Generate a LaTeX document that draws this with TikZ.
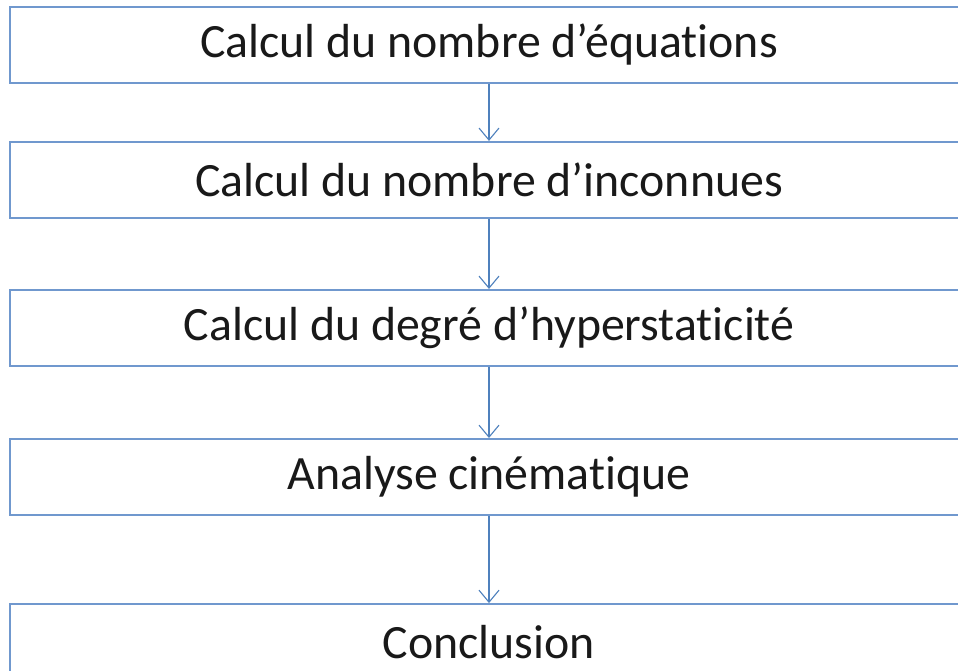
\documentclass[tikz,border=0pt]{standalone}
\usepackage{fontspec}
\setmainfont{Carlito}[Ligatures=NoCommon]
\usepackage{xcolor}
\usepackage{tikz}
\usetikzlibrary{positioning, arrows.meta}
\definecolor{boxline}{RGB}{112,152,206}
\definecolor{arrowline}{RGB}{79,129,189}
\tikzset{
  etape/.style={
    rectangle, draw=boxline, line width=1.6pt, fill=white,
    minimum width=23.95cm, minimum height=1.9cm, inner sep=0pt,
    font=\fontsize{34}{40}\selectfont, text=black!90
  },
  fleche/.style={draw=arrowline, line width=0.8pt,
    -{Straight Barb[length=0.3cm, width=0.5cm, line width=0.8pt]}},
}
\begin{document}
\begin{tikzpicture}
  \useasboundingbox (0,0) rectangle (23.95,-16.775);
  \node[etape] (E1) at (12.225,-1.125) {Calcul du nombre d’équations};
  \node[etape, below=1.42cm of E1] (E2) {Calcul du nombre d’inconnues};
  \node[etape, below=1.745cm of E2] (E3) {Calcul du degré d’hyperstaticité};
  \node[etape, below=1.77cm of E3] (E4) {Analyse cinématique};
  \node[etape, below=2.17cm of E4] (E5) {Conclusion};

  \draw[fleche] (E1) -- (E2);
  \draw[fleche] (E2) -- (E3);
  \draw[fleche] (E3) -- (E4);
  \draw[fleche] (E4) -- (E5);
\end{tikzpicture}
\end{document}
